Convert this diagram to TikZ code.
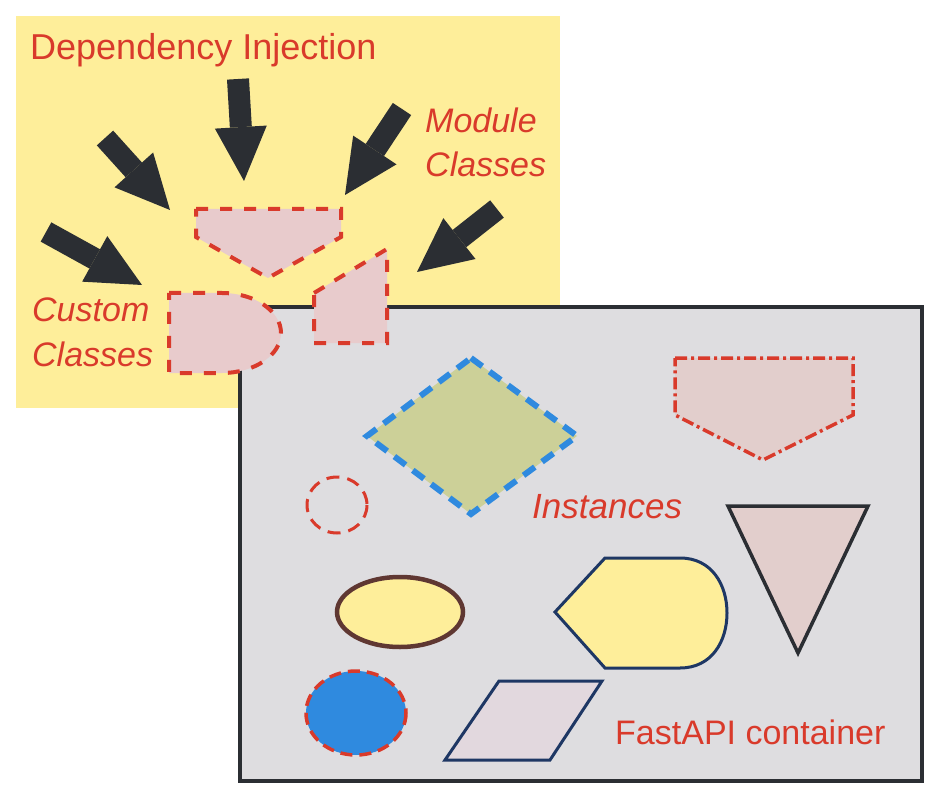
\documentclass[tikz,border=0pt]{standalone}
\usepackage{fontspec}
\setmainfont{Liberation Sans}
\usetikzlibrary{arrows.meta}

\definecolor{notered}{RGB}{217,58,43}
\definecolor{noteyellow}{RGB}{254,238,154}
\definecolor{boxgray}{RGB}{222,221,224}
\definecolor{classpink}{RGB}{232,203,204}
\definecolor{darkline}{RGB}{43,46,51}
\definecolor{instblue}{RGB}{47,138,223}
\definecolor{diamondfill}{RGB}{204,208,152}
\definecolor{navyline}{RGB}{30,55,100}
\definecolor{brownline}{RGB}{95,55,50}
\definecolor{roseshade}{RGB}{226,206,204}
\definecolor{lilacshade}{RGB}{226,216,222}

\begin{document}
\begin{tikzpicture}[x=1pt, y=-1pt,
	injarrow/.style={draw=darkline, line width=22pt, -{Triangle[length=54pt, width=52pt, line width=0pt]}},
	classshape/.style={fill=classpink, draw=notered, line width=4pt, dash pattern=on 12pt off 12pt},
	redtext/.style={text=notered, inner sep=0pt}]
	\useasboundingbox (0,0) rectangle (936,799);
	% backgrounds
	\fill[noteyellow] (16,16) rectangle (560,408);
	\draw[fill=boxgray, draw=darkline, line width=4pt] (240,307) rectangle (922,781);
	% labels
	\node[redtext, anchor=base west, font=\fontsize{36}{42}\selectfont] (di) at (30,60) {Dependency Injection};
	\node[redtext, anchor=north west, align=left, font=\fontsize{34}{44}\selectfont\itshape] (module) at (425,108) {Module\\Classes};
	\node[redtext, anchor=north west, align=left, font=\fontsize{34}{45}\selectfont\itshape] (custom) at (32,298) {Custom\\Classes};
	\node[redtext, anchor=base west, font=\fontsize{35}{40}\selectfont\itshape] (instances) at (532,518) {Instances};
	\node[redtext, anchor=base west, font=\fontsize{34}{40}\selectfont] (container) at (615,744) {FastAPI container};
	% classes being injected
	\draw[classshape] (196,209) -- (341,209) -- (341,237) -- (268,278) -- (196,237) -- cycle;
	\draw[classshape] (169,293) -- (222,293) arc[start angle=-90, end angle=90, x radius=59, y radius=40] -- (169,373) -- cycle;
	\draw[classshape] (314,293) -- (387,249) -- (387,343) -- (314,343) -- cycle;
	% arrows
	\coordinate (tailA) at (238,79);  \coordinate (tipA) at (244,181);
	\coordinate (tailB) at (105,138); \coordinate (tipB) at (170,210);
	\coordinate (tailC) at (46,232);  \coordinate (tipC) at (142,285);
	\coordinate (tailD) at (402,109); \coordinate (tipD) at (345,195);
	\coordinate (tailE) at (497,209); \coordinate (tipE) at (417,272);
	\foreach \a in {A,B,C,D,E}
		\draw[injarrow] (tail\a) -- (tip\a);
	% instances in the container
	\draw[fill=diamondfill, draw=instblue, line width=6pt, dash pattern=on 14pt off 9pt] (471,358) -- (577,436) -- (471,514) -- (367,436) -- cycle;
	\draw[fill=roseshade, draw=notered, line width=3.5pt, dash pattern=on 12pt off 4pt on 3pt off 4pt] (675,358) -- (853,358) -- (853,415) -- (763,460) -- (675,415) -- cycle;
	\draw[draw=notered, line width=3pt, dash pattern=on 13pt off 8pt] (337,505) ellipse[x radius=30, y radius=28];
	\draw[fill=roseshade, draw=darkline, line width=3.5pt, line join=miter] (728,506) -- (868,506) -- (798,653) -- cycle;
	\draw[fill=noteyellow, draw=brownline, line width=4.5pt] (400,612) ellipse[x radius=63, y radius=35];
	\draw[fill=noteyellow, draw=navyline, line width=3pt] (555,612) -- (605,558) -- (680,558) .. controls (712,558) and (727,585) .. (727,613) .. controls (727,641) and (712,668) .. (680,668) -- (605,668) -- cycle;
	\draw[fill=instblue, draw=notered, line width=3.5pt, dash pattern=on 12pt off 7pt] (356,713) ellipse[x radius=50, y radius=42];
	\draw[fill=lilacshade, draw=navyline, line width=3pt] (499,681) -- (602,681) -- (550,760) -- (445,760) -- cycle;
\end{tikzpicture}
\end{document}
